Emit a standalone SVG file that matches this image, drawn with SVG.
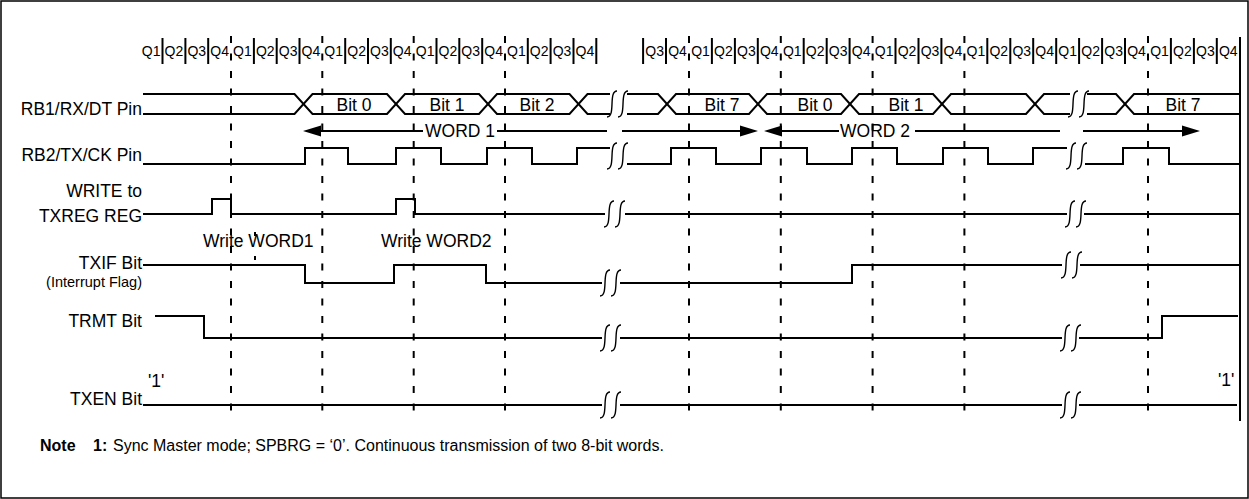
<svg xmlns="http://www.w3.org/2000/svg" width="1249" height="499" viewBox="0 0 1249 499">
<style>
text{font-family:"Liberation Sans",Arial,sans-serif;fill:#000}
.lbl{font-size:17.5px;text-anchor:end}
.q{font-size:14px;text-anchor:middle}
.bit{font-size:17.5px;text-anchor:middle}
.sig{fill:none;stroke:#000;stroke-width:2}
.brk{fill:none;stroke:#000;stroke-width:1.4}
.tick{stroke:#000;stroke-width:2}
.dash{stroke:#000;stroke-width:2;stroke-dasharray:7 10.5}
.arr{stroke:#000;stroke-width:2;fill:none}
</style>
<defs>
<path id="b1" class="brk" d="M5,-13 C-4,-13 4,13 -5,13"/>
<g id="brk2"><use href="#b1" x="0"/><use href="#b1" x="11"/></g>
<path id="ahL" d="M0,0 L18,-5.5 L18,5.5 Z" fill="#000"/>
<path id="ahR" d="M0,0 L-18,-5.5 L-18,5.5 Z" fill="#000"/>
</defs>

<rect x="1" y="1" width="1247" height="497" fill="#fff" stroke="#000" stroke-width="1.5"/>

<g id="grid">
<g class="dash">
<line x1="231" y1="36" x2="231" y2="421"/>
<line x1="322.3" y1="36" x2="322.3" y2="421"/>
<line x1="413.7" y1="36" x2="413.7" y2="421"/>
<line x1="505" y1="36" x2="505" y2="421"/>
<line x1="689" y1="36" x2="689" y2="421"/>
<line x1="780.8" y1="36" x2="780.8" y2="421"/>
<line x1="872.6" y1="36" x2="872.6" y2="421"/>
<line x1="964.4" y1="36" x2="964.4" y2="421"/>
<line x1="1148" y1="36" x2="1148" y2="421"/>
</g>
<line class="tick" x1="1240" y1="37" x2="1240" y2="421"/>
<g class="tick">
<line x1="162.5" y1="38" x2="162.5" y2="64"/><line x1="185.4" y1="38" x2="185.4" y2="64"/><line x1="208.2" y1="38" x2="208.2" y2="64"/>
<line x1="253.9" y1="38" x2="253.9" y2="64"/><line x1="276.7" y1="38" x2="276.7" y2="64"/><line x1="299.5" y1="38" x2="299.5" y2="64"/>
<line x1="345.2" y1="38" x2="345.2" y2="64"/><line x1="368" y1="38" x2="368" y2="64"/><line x1="390.8" y1="38" x2="390.8" y2="64"/>
<line x1="436.5" y1="38" x2="436.5" y2="64"/><line x1="459.3" y1="38" x2="459.3" y2="64"/><line x1="482.2" y1="38" x2="482.2" y2="64"/>
<line x1="527.8" y1="38" x2="527.8" y2="64"/><line x1="550.6" y1="38" x2="550.6" y2="64"/><line x1="573.5" y1="38" x2="573.5" y2="64"/><line x1="596.3" y1="38" x2="596.3" y2="64"/>
<line x1="643.1" y1="38" x2="643.1" y2="64"/><line x1="666" y1="38" x2="666" y2="64"/>
<line x1="711.9" y1="38" x2="711.9" y2="64"/><line x1="734.9" y1="38" x2="734.9" y2="64"/><line x1="757.8" y1="38" x2="757.8" y2="64"/>
<line x1="803.7" y1="38" x2="803.7" y2="64"/><line x1="826.7" y1="38" x2="826.7" y2="64"/><line x1="849.6" y1="38" x2="849.6" y2="64"/>
<line x1="895.5" y1="38" x2="895.5" y2="64"/><line x1="918.5" y1="38" x2="918.5" y2="64"/><line x1="941.4" y1="38" x2="941.4" y2="64"/>
<line x1="987.3" y1="38" x2="987.3" y2="64"/><line x1="1010.3" y1="38" x2="1010.3" y2="64"/><line x1="1033.2" y1="38" x2="1033.2" y2="64"/>
<line x1="1056.2" y1="38" x2="1056.2" y2="64"/><line x1="1079.1" y1="38" x2="1079.1" y2="64"/><line x1="1102.1" y1="38" x2="1102.1" y2="64"/><line x1="1125" y1="38" x2="1125" y2="64"/>
<line x1="1170.9" y1="38" x2="1170.9" y2="64"/><line x1="1193.9" y1="38" x2="1193.9" y2="64"/><line x1="1216.8" y1="38" x2="1216.8" y2="64"/>
</g>
<line class="tick" x1="255" y1="232" x2="255" y2="236"/>
<line class="tick" x1="255" y1="256" x2="255" y2="260"/>
<g class="q">
<text x="151.1" y="56">Q1</text><text x="173.9" y="56">Q2</text><text x="196.8" y="56">Q3</text><text x="219.6" y="56">Q4</text>
<text x="242.4" y="56">Q1</text><text x="265.3" y="56">Q2</text><text x="288.1" y="56">Q3</text><text x="310.9" y="56">Q4</text>
<text x="333.7" y="56">Q1</text><text x="356.6" y="56">Q2</text><text x="379.4" y="56">Q3</text><text x="402.2" y="56">Q4</text>
<text x="425.1" y="56">Q1</text><text x="447.9" y="56">Q2</text><text x="470.7" y="56">Q3</text><text x="493.6" y="56">Q4</text>
<text x="516.4" y="56">Q1</text><text x="539.2" y="56">Q2</text><text x="562" y="56">Q3</text><text x="584.9" y="56">Q4</text>
<text x="654.6" y="56">Q3</text><text x="677.5" y="56">Q4</text>
<text x="700.5" y="56">Q1</text><text x="723.4" y="56">Q2</text><text x="746.4" y="56">Q3</text><text x="769.3" y="56">Q4</text>
<text x="792.3" y="56">Q1</text><text x="815.2" y="56">Q2</text><text x="838.2" y="56">Q3</text><text x="861.1" y="56">Q4</text>
<text x="884.1" y="56">Q1</text><text x="907" y="56">Q2</text><text x="930" y="56">Q3</text><text x="952.9" y="56">Q4</text>
<text x="975.9" y="56">Q1</text><text x="998.8" y="56">Q2</text><text x="1021.8" y="56">Q3</text><text x="1044.7" y="56">Q4</text>
<text x="1067.7" y="56">Q1</text><text x="1090.6" y="56">Q2</text><text x="1113.6" y="56">Q3</text><text x="1136.5" y="56">Q4</text>
<text x="1159.5" y="56">Q1</text><text x="1182.4" y="56">Q2</text><text x="1205.4" y="56">Q3</text><text x="1228.3" y="56">Q4</text>
</g>
</g>

<g id="rb1">
<text class="lbl" x="142" y="115">RB1/RX/DT Pin</text>
<path class="sig" d="M143,94 H294.5 L312.5,114 H387 L405,94 H479 L497,114 H569.5 L587.5,94 H610 M627,94 H658 L676,114 H749 L767,94 H841 L859,114 H933 L951,94 H1026 L1044,114 H1070 M1087,114 H1116 L1134,94 H1240"/>
<path class="sig" d="M143,114 H294.5 L312.5,94 H387 L405,114 H479 L497,94 H569.5 L587.5,114 H610 M627,114 H658 L676,94 H749 L767,114 H841 L859,94 H933 L951,114 H1026 L1044,94 H1070 M1087,94 H1116 L1134,114 H1240"/>
<use href="#brk2" x="612" y="104"/>
<use href="#brk2" x="1073" y="104"/>
<g class="bit">
<text x="354" y="111">Bit 0</text><text x="447" y="111">Bit 1</text><text x="537" y="111">Bit 2</text>
<text x="722" y="111">Bit 7</text><text x="815" y="111">Bit 0</text><text x="906" y="111">Bit 1</text><text x="1183" y="111">Bit 7</text>
</g>
</g>

<g id="word1">
<use href="#ahL" x="303" y="131"/>
<path class="arr" d="M318,131 H423 M497,131 H607 M622,131 H745"/>
<use href="#ahR" x="758" y="131"/>
<text x="425" y="137" font-size="17.5">WORD 1</text>
</g>
<g id="word2">
<use href="#ahL" x="764" y="131"/>
<path class="arr" d="M779,131 H839 M915,131 H1060 M1083,131 H1186"/>
<use href="#ahR" x="1200" y="131"/>
<text x="840" y="137" font-size="17.5">WORD 2</text>
</g>

<g id="rb2">
<text class="lbl" x="142" y="161">RB2/TX/CK Pin</text>
<path class="sig" d="M143,164 H305 V148 H348 V164 H396 V148 H441 V164 H487 V148 H532 V164 H577 V148 H610 M627,164 H671 V148 H716 V164 H761 V148 H807 V164 H852 V148 H897 V164 H943 V148 H988 V164 H1033 V148 H1067 M1085,164 H1123 V148 H1169 V164 H1240"/>
<use href="#brk2" x="612" y="156"/>
<use href="#brk2" x="1071" y="156"/>
</g>

<g id="txreg">
<text class="lbl" x="142" y="197">WRITE to</text>
<text class="lbl" x="142" y="222">TXREG REG</text>
<path class="sig" d="M143,214 H212 V199 H231 V214 H396 V199 H415 V214 H605 M625,214 H1067 M1084,214 H1240"/>
<use href="#brk2" x="609" y="214"/>
<use href="#brk2" x="1070" y="214"/>
<text x="203" y="247" font-size="17.5">Write WORD1</text>
<text x="381" y="247" font-size="17.5">Write WORD2</text>
</g>

<g id="txif">
<text class="lbl" x="142" y="269">TXIF Bit</text>
<text class="lbl" x="142" y="287" style="font-size:14.5px">(Interrupt Flag)</text>
<path class="sig" d="M143,265 H305 V283 H394 V265 H486 V283 H602 M620,283 H852 V265 H1062 M1080,265 H1240"/>
<use href="#brk2" x="605" y="283"/>
<use href="#brk2" x="1066" y="265"/>
</g>

<g id="trmt">
<text class="lbl" x="142" y="327">TRMT Bit</text>
<path class="sig" d="M155,316 H204 V338 H602 M620,338 H1062 M1079,338 H1162 V316 H1238"/>
<use href="#brk2" x="605" y="338"/>
<use href="#brk2" x="1065" y="338"/>
</g>

<g id="txen">
<text class="lbl" x="142" y="405">TXEN Bit</text>
<text x="148" y="387" font-size="17.5">'1'</text>
<path class="sig" d="M143,405 H602 M620,405 H1062 M1079,405 H1237"/>
<use href="#brk2" x="605" y="405"/>
<use href="#brk2" x="1065" y="405"/>
<text x="1218" y="386" font-size="17.5">'1'</text>
</g>

<g id="note" font-size="16">
<text x="40" y="451" font-weight="bold">Note</text>
<text x="93" y="451" font-weight="bold">1:</text>
<text x="113" y="451">Sync Master mode; SPBRG = ‘0’. Continuous transmission of two 8-bit words.</text>
</g>
</svg>
